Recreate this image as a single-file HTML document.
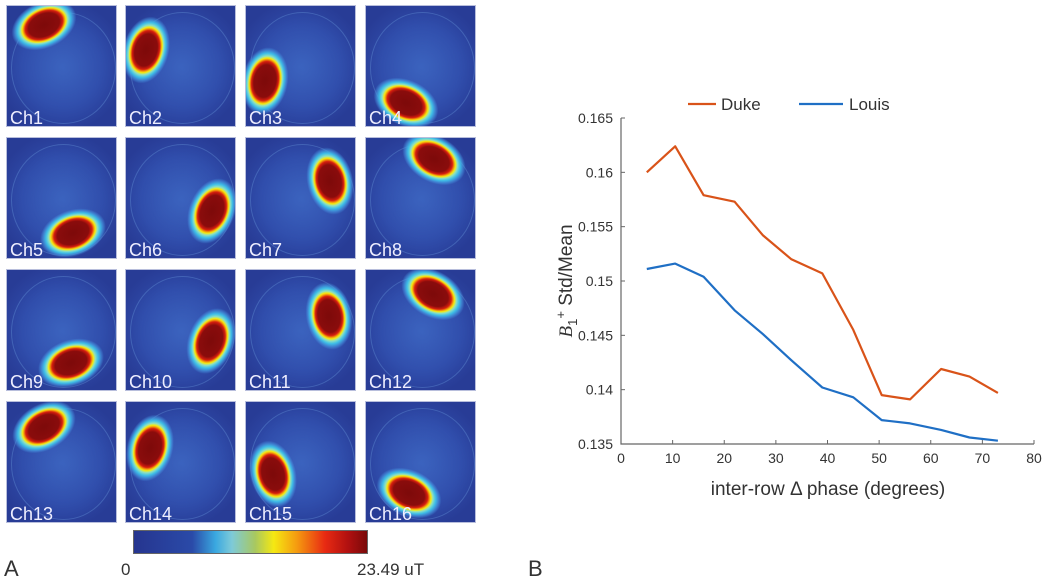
<!DOCTYPE html>
<html><head><meta charset="utf-8">
<style>
body{margin:0;width:1050px;height:584px;background:#fff;position:relative;overflow:hidden;font-family:"Liberation Sans",sans-serif}
.tile{position:absolute;width:111px;height:122px;overflow:hidden;background:radial-gradient(ellipse 60% 55% at 50% 50%,#3658b4 0%,#2f4aa8 60%,#283c96 100%);border:1px solid #b8bedc;box-sizing:border-box}
.tile .ring{position:absolute;left:4px;top:6px;width:103px;height:110px;border-radius:50%;border:1px solid rgba(120,170,230,.3);background:radial-gradient(ellipse at 50% 50%,rgba(70,120,210,.35),rgba(50,90,190,.1) 70%,rgba(0,0,0,0) 100%)}
.blob{position:absolute;width:68px;height:46px;margin:-23px 0 0 -34px;border-radius:50%;
background:radial-gradient(ellipse closest-side,#7d0a0a 0%,#8a0c0c 48%,#d61e0e 58%,#f5a10a 64%,#f5ea12 68%,#8fe0c0 74%,#3fbfe8 82%,rgba(70,150,225,.6) 92%,rgba(60,110,200,0) 100%)}
.lab{position:absolute;left:3px;bottom:-3px;color:#eef;font-size:18px}
</style></head><body>
<div id="tiles"></div>
<div style="position:absolute;left:133px;top:530px;width:235px;height:24px;border:1px solid #666;box-sizing:border-box;background:linear-gradient(90deg,#26358f 0%,#2a4aa8 25%,#3aa8e0 35%,#7ecad8 42%,#a8c860 52%,#f5e812 60%,#f59a10 70%,#e82a12 82%,#b01010 92%,#7a0a0a 100%)"></div>
<div style="position:absolute;left:4px;top:556px;font-size:22px;color:#333">A</div>
<div style="position:absolute;left:121px;top:560px;font-size:17px;color:#333">0</div>
<div style="position:absolute;left:357px;top:560px;font-size:17px;color:#333">23.49 uT</div>
<div style="position:absolute;left:528px;top:556px;font-size:22px;color:#333">B</div>
<svg id="chart" width="1050" height="584" style="position:absolute;left:0;top:0" font-family="Liberation Sans, sans-serif"></svg>
<script>
const tileX=[6,125,245,365], tileY=[5,137,269,401];
const blobs=[[37,19,-25],[20,44,-75],[19,75,-80],[40,97,25],[66,95,-20],[86,73,-68],[84,43,78],[68,21,30],[64,93,-20],[85,71,-70],[83,46,80],[67,24,30],[37,25,-30],[24,46,-75],[27,72,75],[43,91,25]];
const tc=document.getElementById('tiles');
blobs.forEach((b,i)=>{
  const t=document.createElement('div');t.className='tile';
  
  
  t.style.left=tileX[i%4]+'px';t.style.top=tileY[Math.floor(i/4)]+'px';
  t.innerHTML='<div class="ring"></div><div class="blob" style="left:'+b[0]+'px;top:'+b[1]+'px;transform:rotate('+b[2]+'deg)"></div><div class="lab">Ch'+(i+1)+'</div>';
  tc.appendChild(t);
});

const xVals=[5,10.5,16,22,27.5,33,39,45,50.5,56,62,67.5,73];
const duke=[0.16,0.1624,0.1579,0.1573,0.1542,0.152,0.1507,0.1455,0.1395,0.1391,0.1419,0.1412,0.1397];
const louis=[0.1511,0.1516,0.1504,0.1473,0.1451,0.1427,0.1402,0.1393,0.1372,0.1369,0.1363,0.1356,0.1353];
const xTicks=[0,10,20,30,40,50,60,70,80];
const yTicks=[0.135,0.14,0.145,0.15,0.155,0.16,0.165];
const yTickLabels=['0.135','0.14','0.145','0.15','0.155','0.16','0.165'];
const X0=621,X1=1034,Y0=444,Y1=118;
const sx=v=>X0+(v-0)/(80-0)*(X1-X0);
const sy=v=>Y0-(v-0.135)/(0.165-0.135)*(Y0-Y1);
const svg=document.getElementById('chart');const NS='http://www.w3.org/2000/svg';
function mk(tag,attrs,txt){const e=document.createElementNS(NS,tag);for(const k in attrs)e.setAttribute(k,attrs[k]);if(txt!==undefined)e.textContent=txt;svg.appendChild(e);return e;}
let a=mk('path',{d:`M${X0},${Y1}V${Y0}H${X1}`,stroke:'#666',fill:'none','stroke-width':1.2});


xTicks.forEach(v=>{
  let l=mk('line',{x1:sx(v),x2:sx(v),y1:Y0,y2:Y0-4,stroke:'#666'});
  
  
  let t=mk('text',{x:sx(v),y:Y0+19,'text-anchor':'middle','font-size':14,fill:'#333'},String(v));
  
  
});
yTicks.forEach((v,i)=>{
  let l=mk('line',{x1:X0,x2:X0+4,y1:sy(v),y2:sy(v),stroke:'#666'});
  
  
  let t=mk('text',{x:X0-8,y:sy(v)+5,'text-anchor':'end','font-size':14,fill:'#333'},yTickLabels[i]);
  
  
});
function series(vals,color,name){
  const d=vals.map((v,i)=>(i?'L':'M')+sx(xVals[i]).toFixed(1)+','+sy(v).toFixed(1)).join('');
  const p=mk('path',{d:d,stroke:color,fill:'none','stroke-width':2.2,'stroke-linejoin':'round'});
  
  
}
series(duke,'#d95319','duke-line');
series(louis,'#1f6fc5','louis-line');
let xt=mk('text',{x:828,y:495,'text-anchor':'middle','font-size':19,fill:'#333'},'inter-row Δ phase (degrees)');


const yt=mk('text',{transform:'translate(572,281) rotate(-90)','text-anchor':'middle','font-size':19,fill:'#333'});


yt.innerHTML='<tspan font-family="Liberation Serif, serif" font-style="italic">B</tspan><tspan font-size="13" dy="5">1</tspan><tspan font-size="13" dy="-12">+</tspan><tspan dy="7"> Std/Mean</tspan>';
let l1=mk('line',{x1:688,x2:716,y1:104,y2:104,stroke:'#d95319','stroke-width':2.2});


let t1=mk('text',{x:721,y:110,'font-size':17,fill:'#333'},'Duke');


let l2=mk('line',{x1:799,x2:843,y1:104,y2:104,stroke:'#1f6fc5','stroke-width':2.2});


let t2=mk('text',{x:849,y:110,'font-size':17,fill:'#333'},'Louis');


</script>
</body></html>
